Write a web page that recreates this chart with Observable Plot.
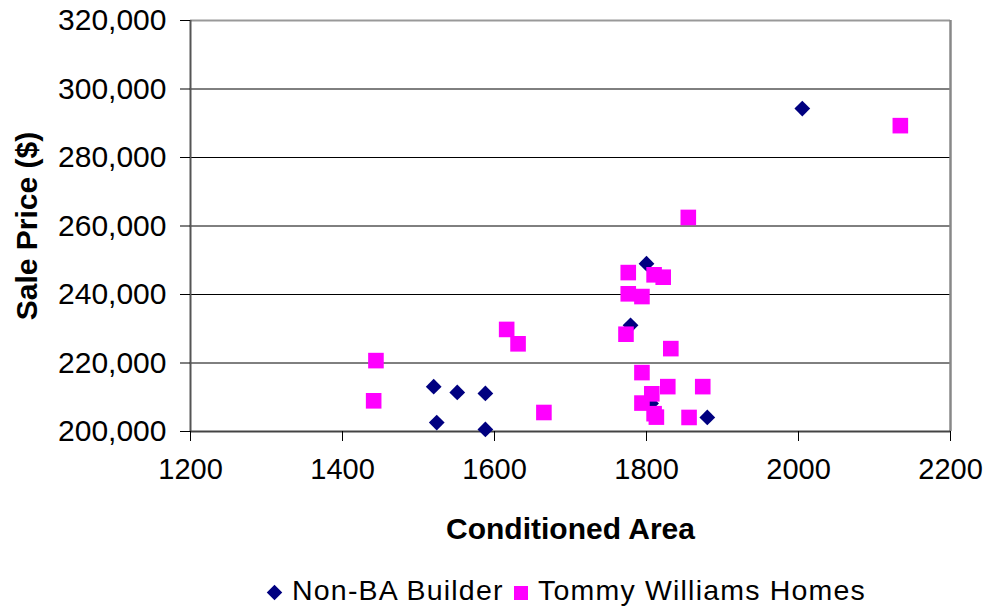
<!DOCTYPE html>
<html>
<head>
<meta charset="utf-8">
<script src="https://cdn.jsdelivr.net/npm/d3@7"></script>
<script src="https://cdn.jsdelivr.net/npm/@observablehq/plot@0.6"></script>
<style>
  html, body { margin: 0; padding: 0; background: #fff; }
  body { width: 987px; height: 609px; overflow: hidden; font-family: "Liberation Sans", Arial, sans-serif; }
  #legend { position: relative; height: 49px; font-size: 28.5px; letter-spacing: 1.2px; color: #000; }
  .item { position: absolute; top: 16px; display: flex; align-items: center; white-space: nowrap; line-height: 28px; }
  .dia { width: 11px; height: 11px; background: #000080; transform: rotate(45deg); margin-right: 12px; margin-top: 4px; }
  .sq { width: 14px; height: 14px; background: #ff00ff; margin-right: 10px; margin-top: 6px; }
</style>
</head>
<body>
<div id="chart"></div>
<div id="legend"></div>
<script>
// Series names
const seriesNames = ["Non-BA Builder", "Tommy Williams Homes"];

// Non-BA Builder (conditioned area, sale price)
const nonBaArea  = [2005, 1800, 1779, 1520, 1551, 1588, 1524, 1588, 1880, 1806];
const nonBaPrice = [294300, 249000, 231000, 213100, 211400, 211100, 202600, 200600, 204100, 208200];

// Tommy Williams Homes (conditioned area, sale price)
const twhArea  = [1776, 1810, 1822, 1776, 1794, 1773, 1832, 1794, 1828, 1874, 1807, 1794, 1810, 1813, 1856, 1855, 2134, 1616, 1631, 1444, 1441, 1665];
const twhPrice = [246400, 245750, 245050, 240200, 239400, 228400, 224200, 217200, 213100, 213100, 211000, 208300, 205200, 204200, 204100, 262500, 289300, 229800, 225600, 220700, 208960, 205550];

// Axis ticks
const xTicks = [1200, 1400, 1600, 1800, 2000, 2200];
const yTicks = [200000, 220000, 240000, 260000, 280000, 300000, 320000];

const xTitle = "Conditioned Area";
const yTitle = "Sale Price ($)";

const nonBa = nonBaArea.map((a, i) => ({area: a, price: nonBaPrice[i]}));
const twh = twhArea.map((a, i) => ({area: a, price: twhPrice[i]}));

const xMin = xTicks[0], xMax = xTicks[xTicks.length - 1];
const yMin = yTicks[0], yMax = yTicks[yTicks.length - 1];
const gridVals = yTicks.filter(v => v !== yMin && v !== yMax);

const chart = Plot.plot({
  width: 987,
  height: 560,
  marginLeft: 190,
  marginRight: 37,
  marginTop: 20,
  marginBottom: 129,
  style: {fontFamily: "'Liberation Sans', Arial, sans-serif", fontSize: "29px", color: "#000", background: "#fff"},
  x: {domain: [xMin, xMax], label: null},
  y: {domain: [yMin, yMax], label: null},
  marks: [
    Plot.ruleY(gridVals, {stroke: "#000", strokeWidth: 1}),
    Plot.ruleY([yMax], {stroke: "#999", strokeWidth: 2}),
    Plot.ruleX([xMax], {stroke: "#888", strokeWidth: 2.5}),
    Plot.ruleX([xMin], {stroke: "#555", strokeWidth: 2}),
    Plot.ruleY([yMin], {stroke: "#444", strokeWidth: 2}),
    Plot.axisY({ticks: yTicks, tickFormat: d3.format(","), tickSize: 10, tickPadding: 14, label: null, fontSize: 30}),
    Plot.axisX({ticks: xTicks, tickFormat: d3.format("d"), tickSize: 10, tickPadding: 17, label: null, fontSize: 29}),
    Plot.dot(nonBa, {x: "area", y: "price", symbol: "diamond2", r: 7.1, fill: "#000080", stroke: "none"}),
    Plot.dot(twh, {x: "area", y: "price", symbol: "square", r: 8.8, fill: "#ff00ff", stroke: "none"}),
    Plot.text([xTitle], {frameAnchor: "bottom", dy: 98, lineAnchor: "middle", fontWeight: "bold", fontSize: 30, fill: "#000"}),
    Plot.text([yTitle], {frameAnchor: "left", dx: -163, rotate: -90, textAnchor: "middle", lineAnchor: "middle", fontWeight: "bold", fontSize: 30, fill: "#000"})
  ]
});
document.getElementById("chart").appendChild(chart);

const legend = document.getElementById("legend");
const items = [
  {name: seriesNames[0], cls: "dia", left: 269},
  {name: seriesNames[1], cls: "sq", left: 514}
];
for (const it of items) {
  const d = document.createElement("div");
  d.className = "item";
  d.style.left = it.left + "px";
  const m = document.createElement("span");
  m.className = it.cls;
  const t = document.createElement("span");
  t.textContent = it.name;
  d.appendChild(m);
  d.appendChild(t);
  legend.appendChild(d);
}
</script>
</body>
</html>
